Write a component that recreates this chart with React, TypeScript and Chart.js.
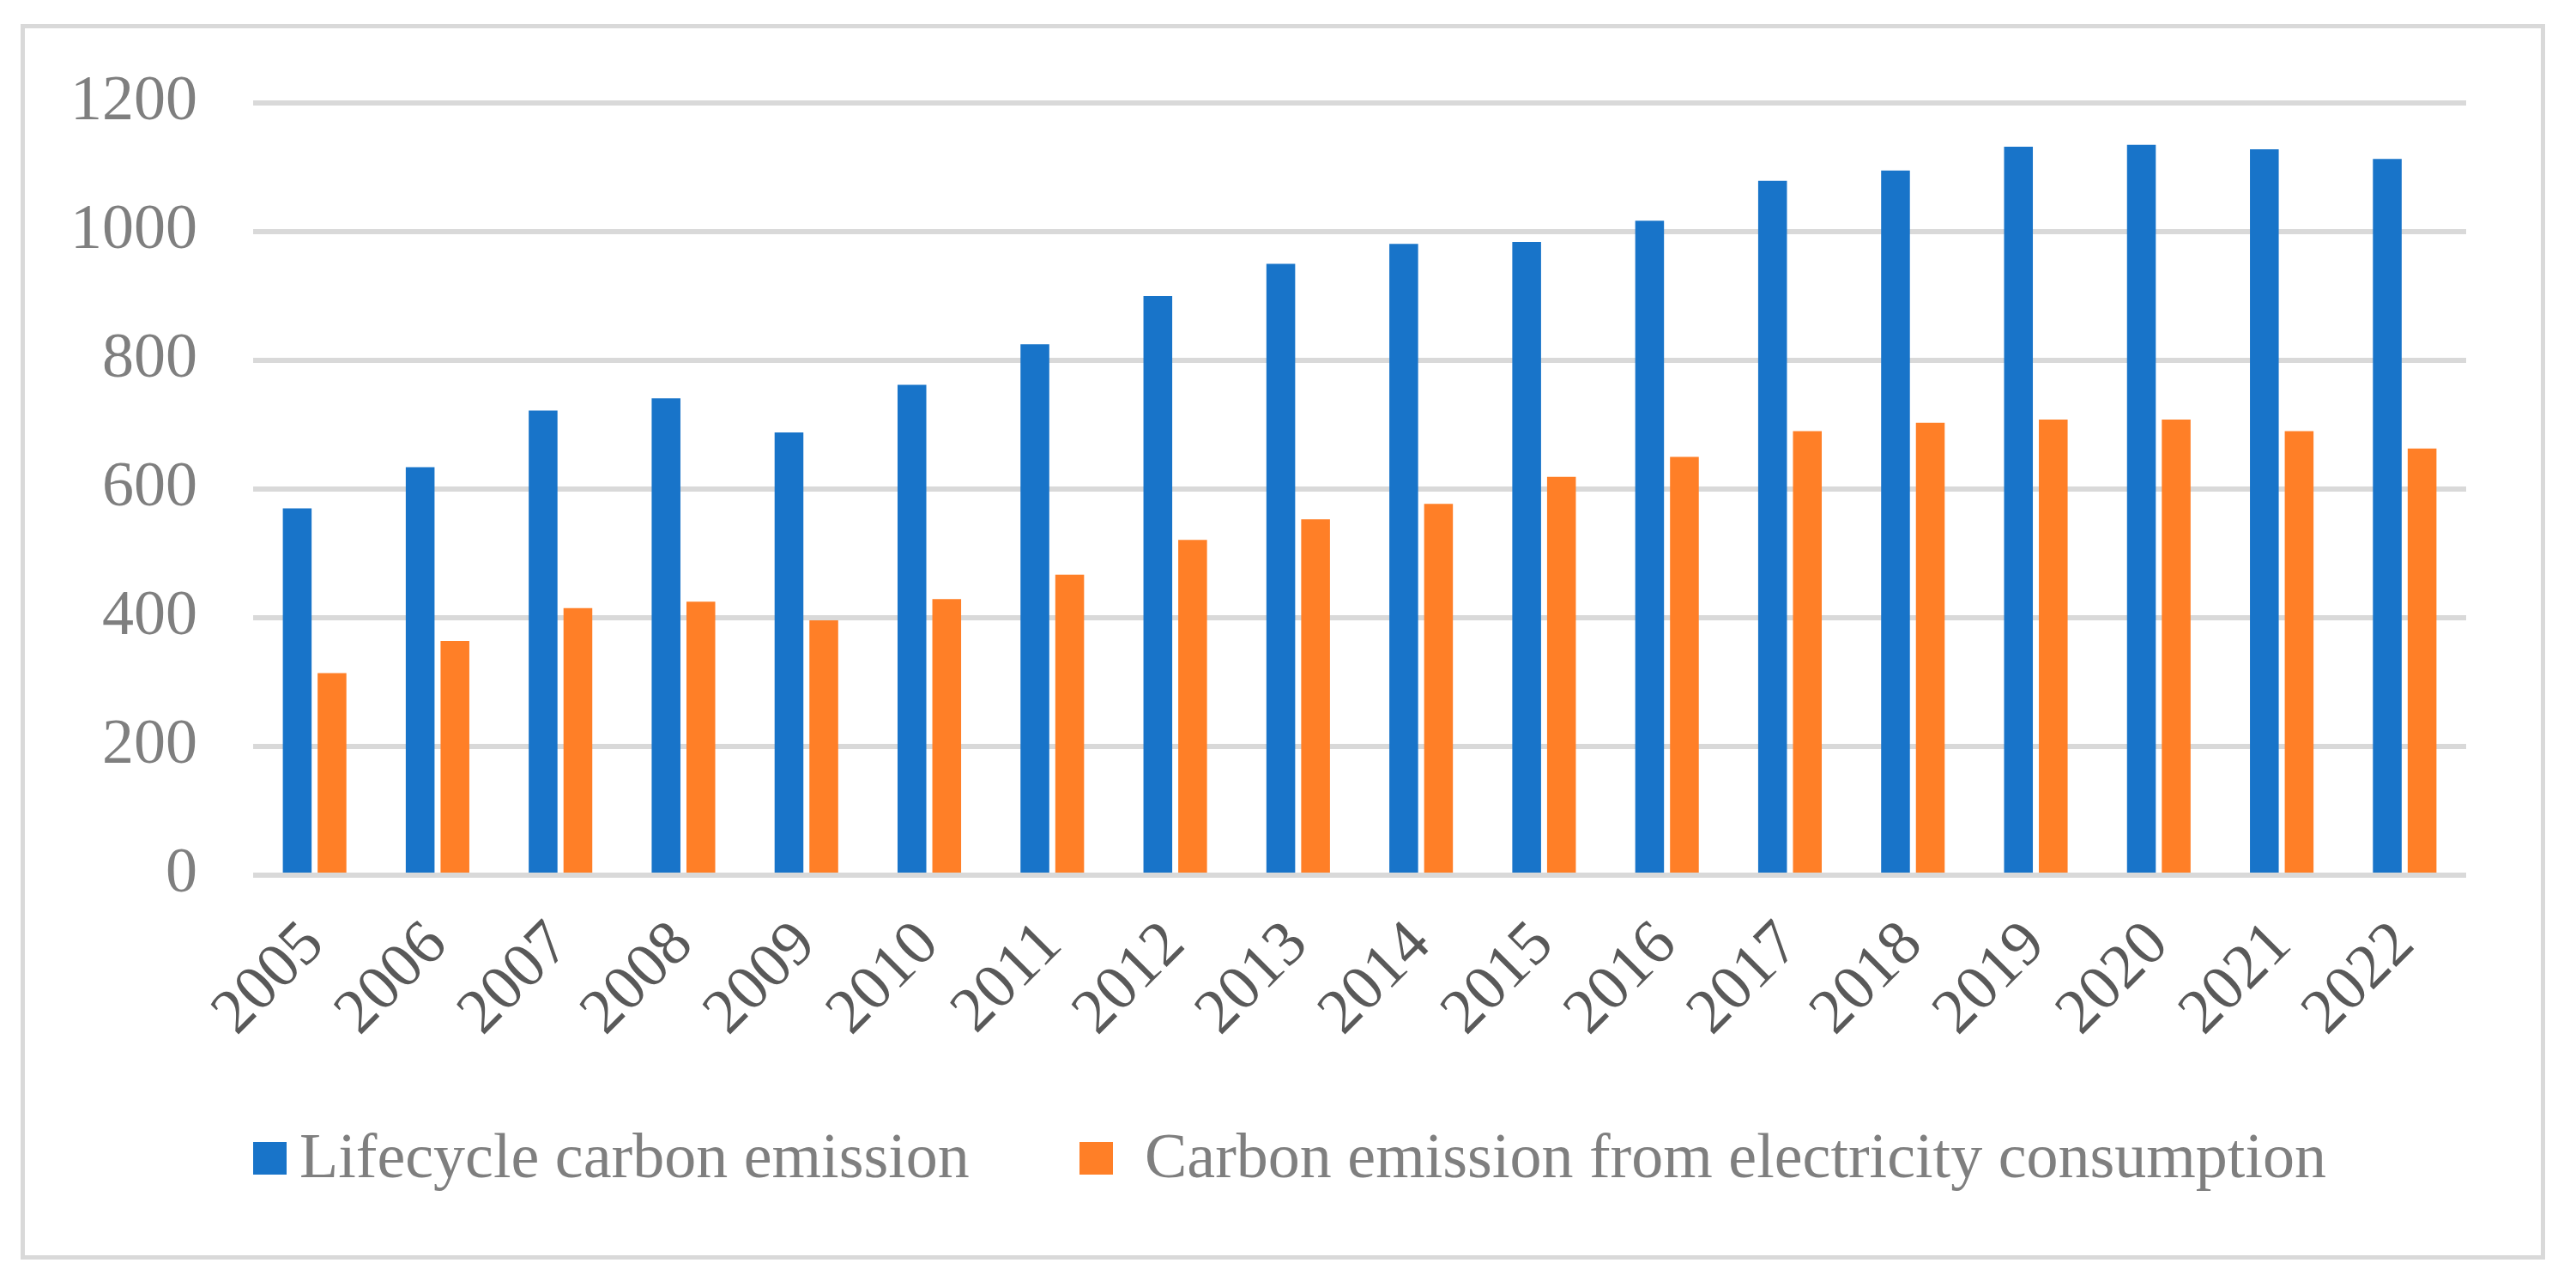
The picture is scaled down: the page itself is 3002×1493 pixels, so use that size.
import React, { useRef, useEffect } from "react";
import { Chart, registerables } from "chart.js";

Chart.register(...registerables);

const years = [
  "2005", "2006", "2007", "2008", "2009", "2010", "2011", "2012", "2013",
  "2014", "2015", "2016", "2017", "2018", "2019", "2020", "2021", "2022",
];
const lifecycleEmission = [
  570, 634, 722, 741, 688, 762, 825, 900, 950, 981, 984, 1017, 1079, 1095,
  1132, 1135, 1128, 1113,
];
const electricityEmission = [
  314, 364, 415, 425, 396, 429, 467, 521, 553, 577, 619, 650, 690, 703, 708,
  708, 690, 663,
];
const seriesNames = [
  "Lifecycle carbon emission",
  "Carbon emission from electricity consumption",
];
const yTicks = [0, 200, 400, 600, 800, 1000, 1200];

const FONT = '"Liberation Serif", "Times New Roman", serif';
const BLUE = "#1874c9";
const ORANGE = "#ff7f27";
const GRID = "#d9d9d9";

// legend placement (Excel puts a tighter gap after the first swatch)
const LEGEND_X = [295, 1258];
const LEGEND_GAP = [15, 37];

const legendPlugin = {
  id: "bottomLegend",
  afterDraw(chart: any) {
    const { ctx } = chart;
    ctx.save();
    ctx.font = `74px ${FONT}`;
    ctx.textBaseline = "alphabetic";
    chart.data.datasets.forEach((ds: any, i: number) => {
      const x = LEGEND_X[i];
      ctx.fillStyle = ds.backgroundColor;
      ctx.fillRect(x, 1331, 39, 38);
      ctx.fillStyle = "#7f7f7f";
      ctx.fillText(ds.label, x + 39 + LEGEND_GAP[i], 1372);
    });
    ctx.restore();
  },
};

const App: React.FC = () => {
  const chartRef = useRef<HTMLCanvasElement | null>(null);

  useEffect(() => {
    if (!chartRef.current) return;
    const ctx = chartRef.current.getContext("2d");
    if (!ctx) return;

    const chartInstance = new Chart(ctx, {
      type: "bar",
      data: {
        labels: years,
        datasets: [
          {
            label: seriesNames[0],
            data: lifecycleEmission,
            backgroundColor: BLUE,
            categoryPercentage: 0.566,
            barPercentage: 0.827,
          },
          {
            label: seriesNames[1],
            data: electricityEmission,
            backgroundColor: ORANGE,
            categoryPercentage: 0.566,
            barPercentage: 0.827,
          },
        ],
      },
      options: {
        animation: false,
        responsive: true,
        maintainAspectRatio: false,
        layout: {
          padding: { top: 120, right: 128, bottom: 223, left: 0 },
        },
        plugins: {
          legend: { display: false },
          tooltip: { enabled: false },
        },
        scales: {
          x: {
            grid: { display: false },
            border: { display: false },
            ticks: {
              color: "#595959",
              font: { size: 74, family: FONT },
              minRotation: 45,
              maxRotation: 45,
              autoSkip: false,
              padding: 30,
            },
            afterFit: (scale: any) => {
              scale.height = 250;
            },
          },
          y: {
            min: 0,
            max: 1200,
            afterBuildTicks: (scale: any) => {
              scale.ticks = yTicks.map((v) => ({ value: v }));
            },
            grid: { color: GRID, lineWidth: 6, drawTicks: false },
            border: { display: false },
            ticks: {
              color: "#7f7f7f",
              font: { size: 74, family: FONT },
              padding: 65,
              callback: (value: any) => String(value),
            },
            afterFit: (scale: any) => {
              scale.width = 295;
            },
          },
        },
      },
      plugins: [legendPlugin],
    });

    return () => {
      chartInstance.destroy();
    };
  }, []);

  return (
    <div
      style={{
        position: "fixed",
        left: 0,
        top: 0,
        width: 3002,
        height: 1493,
        background: "#ffffff",
      }}
    >
      <div
        style={{
          position: "absolute",
          left: 24,
          top: 28,
          width: 2942,
          height: 1440,
          boxSizing: "border-box",
          border: `5px solid ${GRID}`,
        }}
      />
      <div style={{ position: "absolute", left: 0, top: 0, width: 3002, height: 1493 }}>
        <canvas ref={chartRef} />
      </div>
    </div>
  );
};

export default App;
